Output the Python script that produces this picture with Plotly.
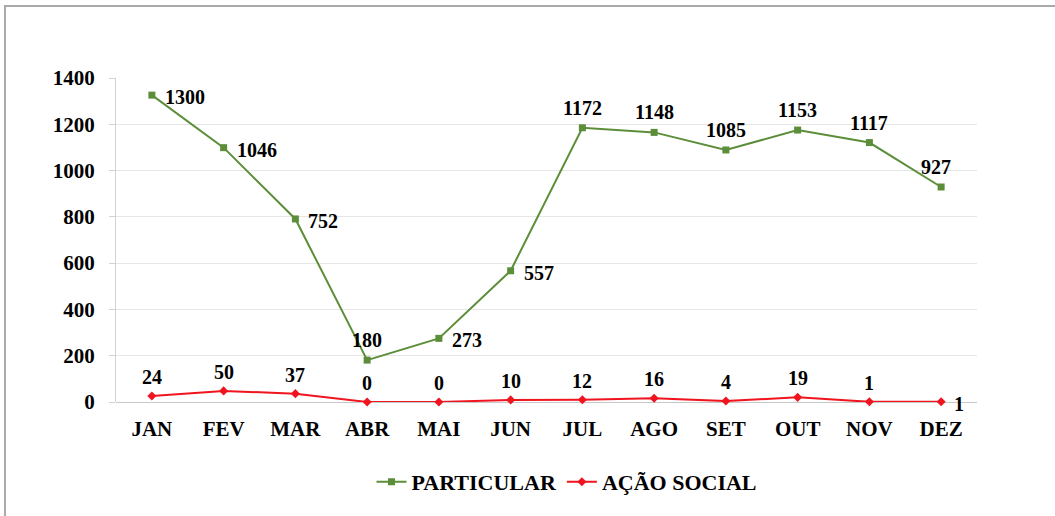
import plotly.graph_objects as go

months = ["JAN", "FEV", "MAR", "ABR", "MAI", "JUN", "JUL", "AGO", "SET", "OUT", "NOV", "DEZ"]
particular_values = [1326, 1099, 791, 181, 275, 567, 1185, 1165, 1089, 1175, 1121, 929]
particular_labels = ["1300", "1046", "752", "180", "273", "557", "1172", "1148", "1085", "1153", "1117", "927"]
acao_values = [26, 48, 36, 0, 0, 9, 10, 16, 4, 20, 1, 1]
acao_labels = ["24", "50", "37", "0", "0", "10", "12", "16", "4", "19", "1", "1"]
y_ticks = [0, 200, 400, 600, 800, 1000, 1200, 1400]

green = "rgb(92,142,58)"
red = "rgb(240,20,30)"
font_family = "Liberation Serif"

# label placement: "r" = right of point, "t" = above point
part_pos = ["r", "r", "r", "t", "r", "r", "t", "t", "t", "t", "t", "t"]
acao_pos = ["t"] * 11 + ["r"]

fig = go.Figure()
fig.add_trace(go.Scatter(
    x=months, y=particular_values, name="PARTICULAR", mode="lines+markers",
    line=dict(color=green, width=2), marker=dict(symbol="square", size=7, color=green),
    cliponaxis=False,
))
fig.add_trace(go.Scatter(
    x=months, y=acao_values, name="AÇÃO SOCIAL", mode="lines+markers",
    line=dict(color=red, width=2), marker=dict(symbol="diamond", size=7, color=red),
    cliponaxis=False,
))

lab_font = dict(family=font_family, size=20, color="black", weight="bold")

def add_labels(values, labels, positions, top_shift, right_shift):
    for m, v, t, p in zip(months, values, labels, positions):
        if p == "r":
            fig.add_annotation(x=m, y=v, text=t, showarrow=False, xanchor="left", yanchor="middle",
                               xshift=right_shift, yshift=-2, font=lab_font)
        else:
            xs = -5 if (m == "DEZ") else 0
            fig.add_annotation(x=m, y=v, text=t, showarrow=False, xanchor="center", yanchor="bottom",
                               xshift=xs, yshift=top_shift, font=lab_font)

add_labels(particular_values, particular_labels, part_pos, 7, 11)
add_labels(acao_values, acao_labels, acao_pos, 6, 11)

W, H = 1055, 516
L, T = 116, 78
R = W - 977
B = H - 402
pw, ph = W - L - R, H - T - B

def px_x(px):
    return (px - L) / pw

def px_y(py):
    return (H - B - py) / ph

fig.add_shape(type="rect", xref="paper", yref="paper",
              x0=px_x(5), y0=px_y(540), x1=px_x(1080), y1=px_y(6),
              line=dict(color="rgb(170,170,170)", width=2), fillcolor="rgba(0,0,0,0)", layer="below")

fig.update_layout(
    width=W, height=H,
    margin=dict(l=L, r=R, t=T, b=B),
    paper_bgcolor="white", plot_bgcolor="white",
    font=dict(family=font_family, size=20, color="black"),
    showlegend=True,
    legend=dict(orientation="h", x=px_x(567), xanchor="center", y=px_y(482), yanchor="middle",
                font=dict(family=font_family, size=22, color="black", weight="bold"),
                itemwidth=30, bgcolor="rgba(0,0,0,0)"),
    xaxis=dict(type="category", range=[-0.5, len(months) - 0.5], showgrid=False, showline=False,
               ticks="", ticklabelstandoff=12,
               tickfont=dict(family=font_family, size=21, color="black", weight="bold")),
    yaxis=dict(range=[0, 1400], tickvals=y_ticks, showgrid=True, gridcolor="rgb(230,230,230)",
               gridwidth=1, showline=True, linecolor="rgb(210,210,210)", ticks="outside",
               ticklen=6, tickcolor="rgb(210,210,210)", zeroline=True, zerolinecolor="rgb(200,200,200)",
               zerolinewidth=1, ticklabelstandoff=10,
               tickfont=dict(family=font_family, size=21, color="black", weight="bold")),
)

fig.write_html("out.html", config={"displayModeBar": False},
               post_script="document.body.style.margin='0px';document.body.style.overflow='hidden';")
